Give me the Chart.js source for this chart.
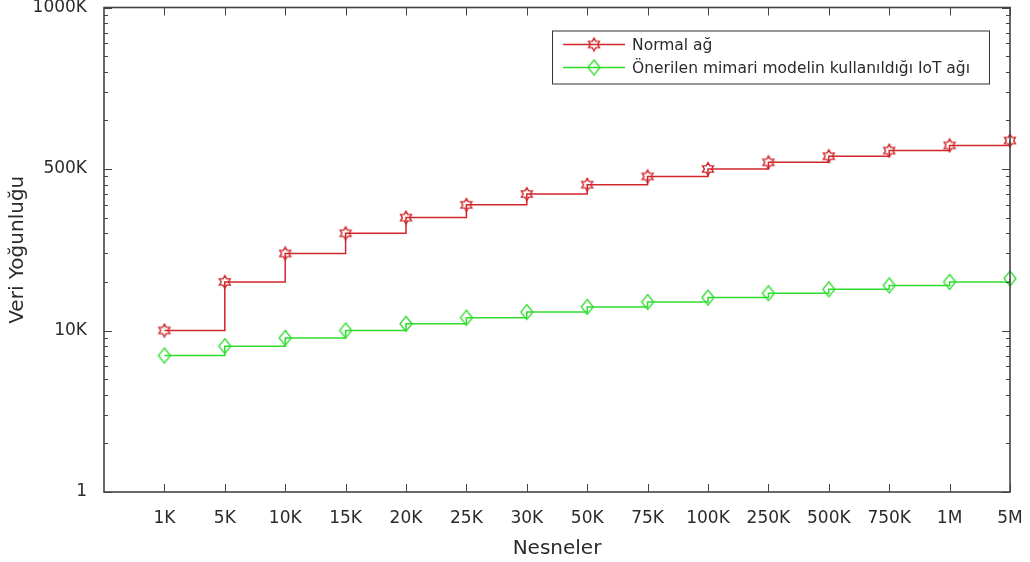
<!DOCTYPE html>
<html>
<head>
<meta charset="utf-8">
<script src="https://cdn.jsdelivr.net/npm/chart.js@4.4.1/dist/chart.umd.min.js"></script>
<style>
  html, body { margin: 0; padding: 0; background: #ffffff; }
  #wrap { width: 1030px; height: 562px; position: relative; }
</style>
</head>
<body>
<div id="wrap"><canvas id="chart"></canvas></div>
<script>
// Object counts on the horizontal axis
const categories = ['1K', '5K', '10K', '15K', '20K', '25K', '30K', '50K', '75K', '100K', '250K', '500K', '750K', '1M', '5M'];
// Data density per network type (log-scale axis units)
const normalNetwork = [10, 20, 30, 40, 50, 60, 70, 80, 90, 100, 110, 120, 130, 140, 150];
const proposedNetwork = [7, 8, 9, 10, 11, 12, 13, 14, 15, 16, 17, 18, 19, 20, 21];
// Decade positions on the vertical axis and the text shown at them
const yTickValues = [1, 10, 100, 1000];
const yTickLabels = ['1', '10K', '500K', '1000K'];
const seriesNames = ['Normal ağ', 'Önerilen mimari modelin kullanıldığı IoT ağı'];

const FONT = "'DejaVu Sans', 'Liberation Sans', sans-serif";
const TEXT_COLOR = '#2b2b2b';
const AXIS_COLOR = '#444444';
const RED = '#d0262b';
const GREEN = '#2edc2e';

// Hollow six-pointed star marker
function hexagramMarker(color) {
  const c = document.createElement('canvas');
  c.width = 16; c.height = 16;
  const g = c.getContext('2d');
  const R = 6.3, r = R / Math.sqrt(3);
  g.strokeStyle = color; g.lineWidth = 1.4;
  g.beginPath();
  for (let k = 0; k < 12; k++) {
    const ang = (-90 + k * 30) * Math.PI / 180;
    const rad = k % 2 === 0 ? R : r;
    const px = 8 + rad * Math.cos(ang), py = 8 + rad * Math.sin(ang);
    if (k === 0) g.moveTo(px, py); else g.lineTo(px, py);
  }
  g.closePath(); g.stroke();
  return c;
}

// Hollow diamond marker
function diamondMarker(color) {
  const c = document.createElement('canvas');
  c.width = 16; c.height = 18;
  const g = c.getContext('2d');
  g.strokeStyle = color; g.lineWidth = 1.3;
  g.beginPath();
  g.moveTo(8, 1.5); g.lineTo(14, 9); g.lineTo(8, 16.5); g.lineTo(2, 9);
  g.closePath(); g.stroke();
  return c;
}

const redMarker = hexagramMarker(RED);
const greenMarker = diamondMarker(GREEN);

const toPoints = arr => arr.map((v, i) => ({ x: i + 1, y: v }));

// Box frame with inward tick marks on all four sides
const frameAndTicks = {
  id: 'frameAndTicks',
  afterDatasetsDraw(chart) {
    const { ctx, chartArea: a, scales: { x, y } } = chart;
    ctx.save();
    ctx.strokeStyle = AXIS_COLOR;
    ctx.lineWidth = 1;
    ctx.beginPath();
    x.ticks.forEach(t => {
      const px = Math.round(x.getPixelForValue(t.value)) + 0.5;
      ctx.moveTo(px, a.bottom); ctx.lineTo(px, a.bottom - 8);
      ctx.moveTo(px, a.top); ctx.lineTo(px, a.top + 8);
    });
    const yTick = (v, len) => {
      const py = Math.round(y.getPixelForValue(v)) + 0.5;
      ctx.moveTo(a.left, py); ctx.lineTo(a.left + len, py);
      ctx.moveTo(a.right, py); ctx.lineTo(a.right - len, py);
    };
    yTickValues.forEach((v, i) => {
      yTick(v, 8);
      if (i < yTickValues.length - 1) {
        for (let k = 2; k <= 9; k++) yTick(v * k, 4);
      }
    });
    ctx.stroke();
    ctx.lineWidth = 1.6;
    ctx.strokeRect(a.left, a.top, a.right - a.left, a.bottom - a.top);
    ctx.restore();
  }
};

// Legend drawn in a framed box in the upper right of the plot
const boxedLegend = {
  id: 'boxedLegend',
  afterDraw(chart) {
    const { ctx, chartArea: a } = chart;
    const sets = chart.data.datasets;
    ctx.save();
    ctx.font = '15.5px ' + FONT;
    const textW = Math.max(...sets.map(d => ctx.measureText(d.label).width));
    const w = 80 + textW + 19;
    const h = 53;
    const right = a.right - 21;
    const top = a.top + 23;
    const left = right - w;
    ctx.fillStyle = '#ffffff';
    ctx.fillRect(left, top, w, h);
    ctx.strokeStyle = '#333333';
    ctx.lineWidth = 1;
    ctx.strokeRect(Math.round(left) + 0.5, top + 0.5, Math.round(w), h);
    sets.forEach((d, i) => {
      const cy = top + 14 + i * 23;
      ctx.strokeStyle = d.borderColor;
      ctx.lineWidth = d.borderWidth;
      ctx.beginPath();
      ctx.moveTo(left + 11, cy); ctx.lineTo(left + 73, cy);
      ctx.stroke();
      const m = d.pointStyle;
      ctx.drawImage(m, left + 42 - m.width / 2, cy - m.height / 2);
      ctx.fillStyle = TEXT_COLOR;
      ctx.textBaseline = 'middle';
      ctx.textAlign = 'left';
      ctx.fillText(d.label, left + 80, cy + 1);
    });
    ctx.restore();
  }
};

new Chart(document.getElementById('chart'), {
  type: 'line',
  data: {
    datasets: [
      {
        label: seriesNames[0],
        data: toPoints(normalNetwork),
        borderColor: RED,
        borderWidth: 1.5,
        stepped: true,
        pointStyle: redMarker,
        pointRadius: 6,
        fill: false,
        clip: false
      },
      {
        label: seriesNames[1],
        data: toPoints(proposedNetwork),
        borderColor: GREEN,
        borderWidth: 1.5,
        stepped: true,
        pointStyle: greenMarker,
        pointRadius: 6,
        fill: false,
        clip: false
      }
    ]
  },
  options: {
    responsive: true,
    maintainAspectRatio: false,
    animation: false,
    events: [],
    layout: { padding: { top: 6, right: 20, bottom: 0, left: 0 } },
    plugins: {
      legend: { display: false },
      tooltip: { enabled: false }
    },
    scales: {
      x: {
        type: 'linear',
        min: 0,
        max: categories.length,
        afterBuildTicks: s => { s.ticks = categories.map((c, i) => ({ value: i + 1 })); },
        afterFit: s => { s.height = 70; s.paddingLeft = 0; s.paddingRight = 0; },
        grid: { display: false },
        border: { display: false },
        ticks: {
          autoSkip: false,
          maxRotation: 0,
          padding: 8,
          color: TEXT_COLOR,
          font: { family: FONT, size: 17 },
          callback: (v, i) => categories[i]
        },
        title: {
          display: true,
          text: 'Nesneler',
          color: TEXT_COLOR,
          font: { family: FONT, size: 20 },
          padding: { top: 0, bottom: 1 }
        }
      },
      y: {
        type: 'logarithmic',
        min: yTickValues[0],
        max: yTickValues[yTickValues.length - 1],
        afterBuildTicks: s => { s.ticks = yTickValues.map(v => ({ value: v, major: true })); },
        afterFit: s => { s.width = 104; s.paddingTop = 0; s.paddingBottom = 0; },
        grid: { display: false },
        border: { display: false },
        ticks: {
          autoSkip: false,
          padding: 9,
          color: TEXT_COLOR,
          font: { family: FONT, size: 17 },
          callback: (v, i) => yTickLabels[i]
        },
        title: {
          display: true,
          text: 'Veri Yoğunluğu',
          color: TEXT_COLOR,
          font: { family: FONT, size: 20 },
          padding: { top: 6, bottom: 0 }
        }
      }
    }
  },
  plugins: [frameAndTicks, boxedLegend]
});
</script>
</body>
</html>
